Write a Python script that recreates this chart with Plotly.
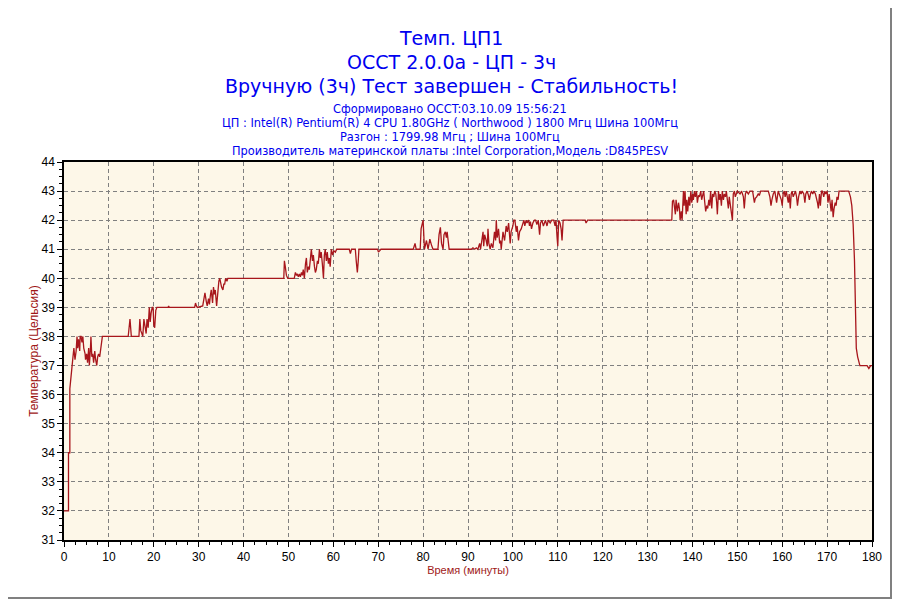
import plotly.graph_objects as go

# Temperature log (minutes, deg C)
time_min = [
    0, 1.0, 1.0, 1.3, 1.3, 1.5, 1.8, 2.0, 2.2, 2.45, 2.7, 2.9, 3.05, 3.25, 3.5, 3.6,
    3.8, 4.0, 4.2, 4.4, 4.7, 4.8, 5.05, 5.25, 5.5, 5.65, 5.9, 6.0, 6.2, 6.4, 6.6,
    6.85, 7.05, 7.3, 7.5, 7.7, 7.95, 8.2, 8.4, 8.55,
    14.3, 14.5, 14.7, 15.0, 16.7, 16.9, 17.1, 17.35, 17.55, 17.8, 18.0, 18.3, 18.5,
    18.75, 19.0, 19.2, 19.4, 19.65, 19.85, 20.0, 20.2, 20.45, 20.7,
    23.2, 23.3, 23.45, 29.1, 29.3, 29.5, 29.7,
    30.9, 31.1, 31.4, 31.7, 31.9, 32.2, 32.4, 32.6, 32.8, 33.1, 33.3, 33.5, 33.7,
    34.0, 34.2, 34.5, 34.7, 34.9, 35.1, 35.4, 35.6, 35.8, 36.0, 36.3, 36.5,
    48.96, 49.1, 49.3, 49.55, 49.85, 51.3, 51.55, 51.8, 52.0, 52.2, 52.45, 52.65,
    52.9, 53.1, 53.3, 53.55, 53.8, 54.0, 54.2, 54.45, 54.65, 54.9, 55.1, 55.35,
    55.55, 55.8, 56.0, 56.2, 56.45, 56.65, 56.9, 57.1, 57.3, 57.55, 57.8, 58.0,
    58.2, 58.45, 58.65, 58.9, 59.1, 59.3, 59.55, 59.85, 60.1, 60.45, 60.75,
    63.55, 63.8, 64.05, 64.9, 65.1, 65.35, 65.55, 65.7, 69.85, 70.05, 70.35, 70.6,
    77.8, 78.0, 78.2, 78.45, 79.35, 79.55, 79.8, 80.0, 80.3,
    80.75, 81.1, 81.5, 81.85, 82.2, 83.3, 83.55, 83.85, 84.1, 84.45, 84.65, 84.95,
    85.2, 85.35, 85.55, 85.8, 90.75, 91.1, 91.5, 91.85, 92.2, 92.6, 92.8, 93.1,
    93.35, 93.5, 93.7, 94.05, 94.3, 94.45, 94.65, 94.95, 95.2, 95.55, 95.9, 96.15,
    96.3, 96.5, 96.8, 97.05, 97.25, 97.4, 97.8, 98.15, 98.5, 98.75, 99.05, 99.25,
    99.4, 99.6, 100.0, 100.2, 100.45, 100.75, 100.95, 101.25, 101.5, 101.85,
    102.2, 102.45, 102.65, 102.95, 103.15, 103.5, 103.7, 103.9, 104.15, 104.45,
    104.8, 105.05, 105.35, 105.65, 105.95, 106.15, 106.45, 106.8, 107.25, 107.6,
    107.9, 108.3, 108.65, 109.1, 109.4, 109.6, 109.85, 110.0, 110.2, 110.5,
    110.75, 110.95, 111.2, 116.1, 116.3, 116.65,
    135.4, 135.55, 135.8, 136.0, 136.2, 136.35, 136.65, 136.9, 137.1, 137.25,
    137.5, 137.7, 138.0, 138.15, 138.35, 138.6, 138.75, 138.95, 139.2, 139.4,
    139.65, 139.85, 140.05, 140.2, 140.45, 140.65, 140.9, 141.1, 141.35, 141.55,
    141.85, 142.05, 142.3, 142.5, 142.75, 142.95, 143.2, 143.4, 143.65, 143.85,
    144.05, 144.3, 144.5, 144.75, 144.95, 145.2, 145.4, 145.55, 145.8, 146.0,
    146.2, 146.45, 146.65, 146.9, 147.1, 147.35, 147.55, 147.8, 148.0, 148.2,
    148.45, 148.65, 148.9, 149.1, 149.35, 149.55, 149.8, 150.0, 150.6, 150.95,
    151.35, 151.55, 151.8, 152.05, 152.45, 152.8, 153.4, 153.55, 153.8, 154.0,
    154.3, 154.65, 154.9, 155.2, 156.9, 157.25, 157.5, 157.7, 158.0, 158.35,
    158.75, 159.1, 159.8, 160.0, 160.2, 160.45, 160.65, 160.9, 161.1, 161.35,
    161.55, 161.8, 162.0, 162.2, 162.45, 162.65, 162.95, 163.2, 163.4, 163.65,
    163.95, 164.2, 164.45, 164.8, 165.05, 165.25, 165.55, 165.85, 166.05, 166.3,
    166.5, 166.8, 167.05, 167.4, 167.6, 167.85, 168.05, 168.3, 168.5, 168.75,
    168.95, 169.25, 169.5, 169.7, 170.0, 170.2, 170.45, 170.65, 170.9, 171.1,
    171.35, 171.55, 171.8, 172.0, 172.2, 172.45, 172.65, 174.8,
    175.2, 175.5, 175.8, 176.1, 176.3, 176.5, 176.8, 177.3, 178.9, 179.3, 179.7, 180.0,
]

temp_c = [
    32.0, 32.0, 34.0, 34.0, 36.2, 36.6, 37.0, 37.3, 37.6, 37.2, 37.5, 38.0, 37.6, 37.9, 37.5, 38.0,
    38.0, 37.8, 38.0, 37.6, 37.4, 37.2, 37.4, 37.1, 37.6, 37.0, 37.6, 38.0, 37.3, 37.4, 37.1,
    37.5, 37.2, 37.0, 37.3, 37.4, 37.3, 37.6, 37.7, 38.0,
    38.0, 38.4, 38.6, 38.0, 38.0, 38.6, 38.2, 38.1, 38.0, 38.6, 38.4, 38.1, 38.6,
    38.3, 39.0, 38.5, 38.8, 39.0, 39.0, 38.4, 38.3, 38.9, 39.0,
    39.0, 39.05, 39.0, 39.0, 39.15, 39.05, 39.0,
    39.05, 39.3, 39.5, 39.2, 39.05, 39.3, 39.1, 39.4, 39.6, 39.15, 39.7, 39.45, 39.6,
    39.05, 39.5, 39.9, 40.0, 39.8, 39.7, 39.6, 39.8, 39.8, 40.0, 39.9, 40.0,
    40.0, 40.6, 40.4, 40.1, 40.0, 40.0, 40.2, 40.1, 40.15, 40.05, 40.15, 40.05,
    40.2, 40.1, 40.3, 40.0, 40.5, 40.7, 40.2, 40.4, 40.3, 40.8, 41.0, 40.6,
    40.8, 40.4, 40.2, 40.3, 40.6, 40.5, 41.0, 40.7, 40.9, 40.5, 40.0, 40.8,
    41.0, 40.6, 40.9, 40.5, 40.7, 40.4, 41.0, 40.8, 40.95, 40.9, 41.0,
    41.0, 40.85, 41.0, 41.0, 40.6, 40.2, 40.6, 41.0, 41.0, 40.9, 40.95, 41.0,
    41.0, 41.15, 41.2, 41.0, 41.0, 41.7, 41.9, 42.0, 41.0,
    41.3, 41.0, 41.35, 41.15, 41.0, 41.0, 41.5, 41.75, 41.2, 41.0, 41.5, 41.6,
    41.4, 41.6, 41.3, 41.0, 41.0, 41.05, 41.0, 41.05, 41.0, 41.2, 41.0, 41.3,
    41.6, 41.1, 41.5, 41.3, 41.1, 41.7, 41.2, 41.0, 41.2, 41.05, 41.6, 41.3,
    42.0, 41.4, 41.7, 41.2, 41.3, 41.0, 41.6, 41.3, 41.8, 41.6, 41.9, 41.5,
    41.2, 41.6, 41.8, 42.0, 42.0, 41.6, 41.8, 41.3, 41.6, 41.7,
    41.9, 42.0, 41.8, 42.0, 41.9, 42.0, 41.8, 41.95, 41.7, 41.9,
    42.0, 42.0, 41.85, 42.0, 41.5, 41.9, 42.0, 41.8, 42.0, 41.8,
    42.0, 41.9, 42.0, 42.0, 41.8, 42.0, 41.4, 41.1, 42.0, 41.9,
    41.7, 41.3, 42.0, 42.0, 41.9, 42.0,
    42.0, 42.65, 42.7, 42.4, 42.2, 42.7, 42.3, 42.6, 42.4, 42.0,
    42.3, 42.0, 43.0, 42.5, 43.0, 42.2, 42.7, 42.3, 42.8, 42.5,
    43.0, 42.6, 42.9, 42.7, 43.0, 42.8, 43.0, 42.6, 42.85, 42.8,
    43.0, 42.7, 42.9, 43.0, 42.6, 42.3, 42.5, 42.4, 42.7, 42.5,
    43.0, 42.4, 42.9, 42.8, 43.0, 42.9, 42.6, 42.2, 43.0, 42.7,
    42.9, 42.5, 43.0, 42.7, 42.9, 42.8, 43.0, 42.6, 42.4, 42.8,
    42.5, 42.3, 42.0, 42.9, 43.0, 42.8, 42.9, 43.0, 42.9, 43.0,
    42.8, 42.4, 42.9, 43.0, 42.9, 43.0, 43.0, 42.8, 42.6, 42.75,
    42.8, 42.9, 42.85, 43.0, 43.0, 42.8, 42.5, 42.7, 42.9, 43.0,
    42.6, 43.0, 42.7, 42.5, 42.9, 43.0, 42.8, 43.0, 42.8, 42.6,
    42.9, 42.4, 42.9, 43.0, 42.8, 42.9, 43.0, 42.8, 42.5, 42.8,
    43.0, 42.9, 43.0, 42.9, 42.6, 42.9, 43.0, 42.85, 42.7, 42.9,
    43.0, 42.9, 43.0, 42.9, 42.8, 42.6, 42.4, 42.9, 42.5, 43.0,
    43.0, 42.8, 43.0, 42.9, 43.0, 42.6, 42.9, 42.5, 42.3, 42.7,
    42.1, 42.4, 42.6, 42.5, 42.8, 42.7, 43.0, 43.0,
    42.8, 42.5, 41.85, 40.6, 38.9, 37.6, 37.3, 37.0, 37.0, 36.9, 37.0, 37.0,
]

title_lines = [
    "Темп. ЦП1",
    "OCCT 2.0.0a - ЦП - 3ч",
    "Вручную (3ч) Тест завершен - Стабильность!",
]
info_lines = [
    "Сформировано OCCT:03.10.09 15:56:21",
    "ЦП : Intel(R) Pentium(R) 4 CPU 1.80GHz ( Northwood ) 1800 Мгц Шина 100Мгц",
    "Разгон : 1799.98 Мгц ; Шина 100Мгц",
    "Производитель материнской платы :Intel Corporation,Модель :D845PESV",
]

fig = go.Figure()
fig.add_trace(go.Scatter(x=time_min, y=temp_c, mode="lines",
                         line=dict(color="#A8161C", width=1.3), hoverinfo="x+y"))

# the page body adds an 8px offset, so everything is placed 8px up/left
OFF = 8
L, R, T, B = 64 - OFF, 900 - 872 + OFF, 162 - OFF, 600 - 540 + OFF
pw, ph = 900 - L - R, 600 - T - B


def px_x(px):
    # screen pixel -> paper x
    return (px - OFF - L) / pw


def px_y(py):
    # screen pixel -> paper y
    return (600 - B - (py - OFF)) / ph


annos = []
for txt, py in zip(title_lines, [38, 62, 86]):
    annos.append(dict(text=txt, x=px_x(451), y=px_y(py), xref="paper", yref="paper",
                      showarrow=False, xanchor="center", yanchor="middle",
                      font=dict(family="DejaVu Sans", size=19, color="#0000F0")))
for txt, py in zip(info_lines, [109, 123, 137, 151]):
    annos.append(dict(text=txt, x=px_x(450), y=px_y(py), xref="paper", yref="paper",
                      showarrow=False, xanchor="center", yanchor="middle",
                      font=dict(family="DejaVu Sans", size=11.4, color="#0000F0")))

axis_common = dict(
    showline=True, linecolor="black", linewidth=1.5, mirror=True,
    ticks="outside", ticklen=5, tickcolor="black", tickwidth=1,
    showgrid=True, gridcolor="#808080", gridwidth=1, griddash="4px,3px",
    zeroline=False,
    tickfont=dict(family="Liberation Sans", size=12, color="black"),
)

fig.update_layout(
    width=900, height=600,
    margin=dict(l=L, r=R, t=T, b=B),
    paper_bgcolor="white", plot_bgcolor="#FDF7E8",
    showlegend=False,
    annotations=annos,
    xaxis=dict(range=[0, 180], dtick=10, tick0=0,
               minor=dict(dtick=2.5, ticks="outside", ticklen=3, tickcolor="black", showgrid=False),
               title=dict(text="Время (минуты)", standoff=0,
                          font=dict(family="Liberation Sans", size=11, color="#A01818")),
               **axis_common),
    yaxis=dict(range=[31, 44], dtick=1, tick0=31,
               minor=dict(dtick=0.25, ticks="outside", ticklen=3, tickcolor="black", showgrid=False),
               title=dict(text="Температура (Цельсия)", standoff=0,
                          font=dict(family="Liberation Sans", size=12, color="#A01818")),
               **axis_common),
    shapes=[
        # window frame (right edge of the visible page is around 892px)
        dict(type="line", xref="paper", yref="paper", x0=px_x(8), x1=px_x(892),
             y0=px_y(598), y1=px_y(598), line=dict(color="#808080", width=2)),
        dict(type="line", xref="paper", yref="paper", x0=px_x(891), x1=px_x(891),
             y0=px_y(8), y1=px_y(598), line=dict(color="#808080", width=2)),
    ],
)

fig.write_html("out.html")
